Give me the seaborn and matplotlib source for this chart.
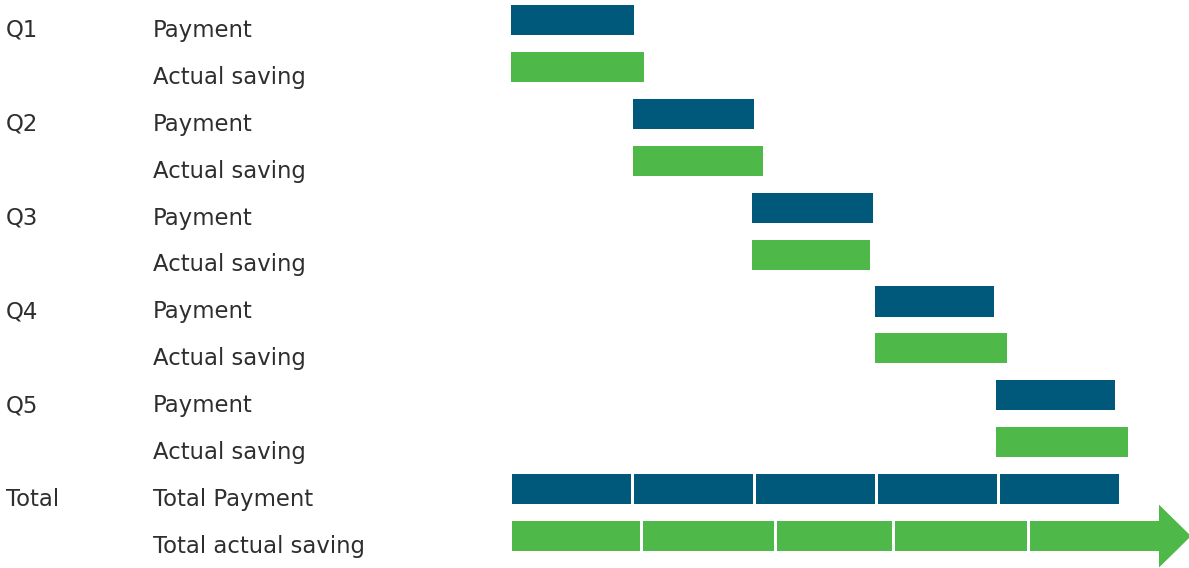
import matplotlib
matplotlib.use("Agg")
import matplotlib.pyplot as plt
import matplotlib.transforms as mtransforms
import seaborn as sns
import numpy as np
import pandas as pd

# data (pixel-like units)
quarters = ["Q1", "Q2", "Q3", "Q4", "Q5"]
starts = [0, 122, 241, 364, 485]
payment = [123, 121, 121, 119, 119]
saving = [133, 130, 118, 132, 132]
total_payment_parts = [119, 119, 119, 119, 119]
total_saving_parts = [128, 131, 115, 132, 129]
part_gap = 3

group_labels = quarters + ["Total"]
row_labels = ["Payment", "Actual saving"] * 5 + ["Total Payment", "Total actual saving"]

blue = "#00587A"
green = "#4EB848"
text_color = "#2E2E2E"

sns.set_theme(style="white")
plt.rcParams["font.family"] = ["DejaVu Sans"]

# build one table of bar pieces
rows = []
for i, q in enumerate(quarters):
    rows.append(dict(row=2 * i, left=starts[i], width=payment[i], kind="payment"))
    rows.append(dict(row=2 * i + 1, left=starts[i], width=saving[i], kind="saving"))
pos = 1
for w in total_payment_parts:
    rows.append(dict(row=10, left=pos, width=w, kind="payment"))
    pos += w + part_gap
pos = 1
for w in total_saving_parts:
    rows.append(dict(row=11, left=pos, width=w, kind="saving"))
    pos += w + part_gap
df = pd.DataFrame(rows)
colors = {"payment": blue, "saving": green}

fig = plt.figure(figsize=(11.89, 5.68), dpi=100)
ax = fig.add_axes([511 / 1189, 0, 678 / 1189, 1])

bar_h = 0.64
ax.barh(df["row"], df["width"], left=df["left"], height=bar_h,
        color=df["kind"].map(colors), linewidth=0)

# arrow head at the end of the total saving bar
last = df[df["row"] == 11].iloc[-1]
end = last["left"] + last["width"]
head_len = 32
head_half = 0.67
ax.fill([end, end + head_len, end], [11 - head_half, 11, 11 + head_half],
        color=green, linewidth=0)

ax.set_xlim(0, 678)
ax.set_ylim(11.68, -0.426)
ax.axis("off")

trans = mtransforms.blended_transform_factory(fig.transFigure, ax.transData)
for i, g in enumerate(group_labels):
    ax.text(6 / 1189, 2 * i + 0.36, g, transform=trans, fontsize=16.4,
            color=text_color, va="baseline", ha="left")
for r, lab in enumerate(row_labels):
    ax.text(153 / 1189, r + 0.36, lab, transform=trans, fontsize=16.4,
            color=text_color, va="baseline", ha="left")

fig.savefig("out.png", dpi=100)
